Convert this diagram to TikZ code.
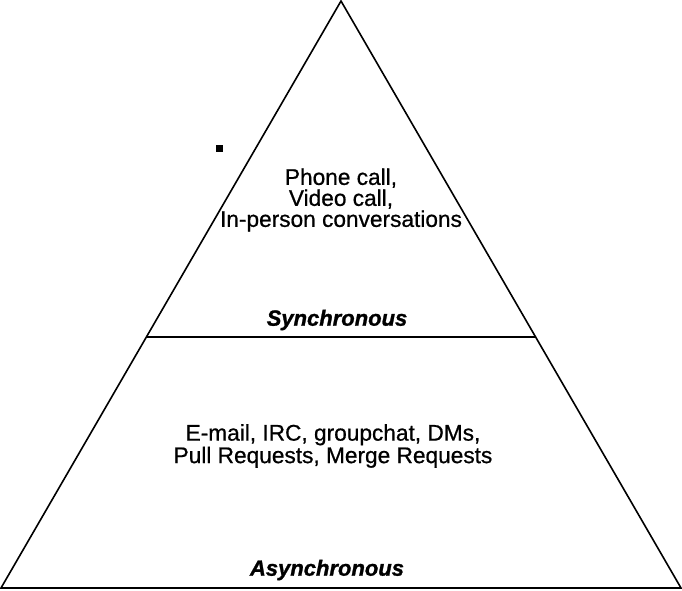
\documentclass[tikz,border=0pt]{standalone}
\usepackage{fontspec}
\setmainfont{Liberation Sans}
\newfontfamily\bodyfont{Liberation Sans}[FakeBold=0.7]
\newfontfamily\tierfont{Liberation Sans Bold Italic}[FakeBold=1.2]
\usetikzlibrary{positioning, calc}

\begin{document}
\begin{tikzpicture}[
        x=0.75pt, y=-0.75pt,
        edge/.style={draw, line width=1.2pt, line join=miter},
        divider/.style={draw, line width=0.9pt},
        body/.style={align=center, font=\bodyfont\fontsize{17}{15.75}\selectfont, inner sep=0pt},
        tier/.style={font=\tierfont\fontsize{16.5}{15.75}\selectfont, inner sep=0pt}
    ]
    \useasboundingbox[fill=white] (0,0) rectangle (682,590);
    \coordinate (apex) at (341,1);
    \coordinate (baseL) at (1,588);
    \coordinate (baseR) at (681,588);
    \coordinate (midL) at ($(apex)!0.5724!(baseL)$);
    \coordinate (midR) at ($(apex)!0.5724!(baseR)$);

    \path[edge] (apex) -- (baseL) -- (baseR) -- cycle;
    \path[divider] (midL) -- (midR);
    \fill (215.5,144.5) rectangle (222.5,151.5);

    \node[body] (sync) at (341,200) {Phone call,\\Video call,\\In-person conversations};
    \node[tier] (synclabel) at (337,320) {Synchronous};
    \node[body] (async) at (333,446) {E-mail, IRC, groupchat, DMs,\\Pull Requests, Merge Requests};
    \node[tier] (asynclabel) at (327,570) {Asynchronous};
\end{tikzpicture}
\end{document}
